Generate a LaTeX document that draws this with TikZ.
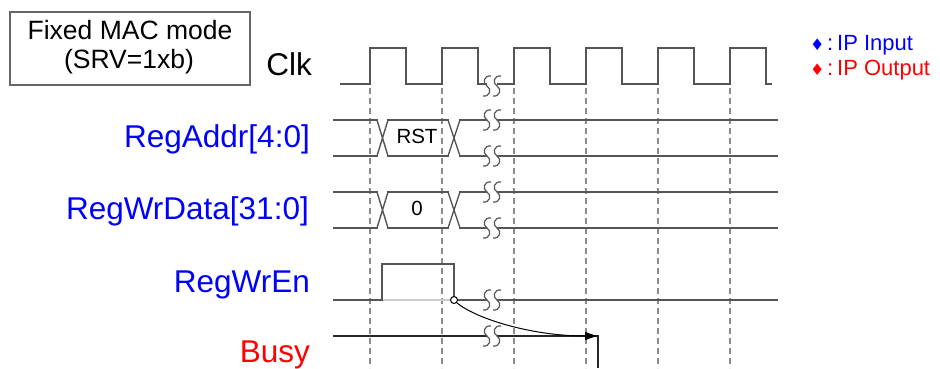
\documentclass[tikz,border=0pt]{standalone}
\usepackage{fontspec}
\setmainfont{Liberation Sans}
\newfontfamily\symfont{DejaVu Sans}
\usetikzlibrary{arrows.meta}
\definecolor{sig}{HTML}{555555}
\definecolor{grd}{HTML}{8C8C8C}
\definecolor{lgr}{HTML}{CCCCCC}
\definecolor{boxg}{HTML}{666666}
\definecolor{ipblue}{HTML}{0000FF}
\definecolor{ipred}{HTML}{FF0000}
\newcommand{\legdiamond}{{\symfont\fontsize{16}{18}\selectfont ♦}\kern2.5pt:\kern4pt}
\tikzset{
  sigline/.style={draw=sig, line width=1.4pt},
  busyline/.style={draw=black!85, line width=1.4pt},
  guide/.style={draw=grd, line width=1.2pt, dash pattern=on 6pt off 4pt},
  lbl/.style={font=\fontsize{31.5}{36}\selectfont, anchor=base east, inner sep=0pt},
  val/.style={font=\fontsize{20.5}{24}\selectfont, anchor=base, inner sep=0pt},
  boxtxt/.style={font=\fontsize{26.5}{30}\selectfont, anchor=base, inner sep=0pt},
  legendtxt/.style={font=\fontsize{22}{26}\selectfont, anchor=base west, inner sep=0pt},
  brk/.pic={
    \draw[sig, line width=1.2pt] (-2,-10) .. controls (-9,-11) and (-11,-3) .. (-6,0)
          .. controls (-1,3) and (-3,11) .. (-10,10);
    \draw[sig, line width=1.2pt] (8,-10) .. controls (1,-11) and (-1,-3) .. (4,0)
          .. controls (9,3) and (7,11) .. (0,10);
  }
}
\begin{document}
\begin{tikzpicture}[x=1pt,y=-1pt]
\useasboundingbox (0,0) rectangle (940,368);
% mode box
\node[draw=boxg, line width=1.2pt, minimum width=240pt, minimum height=73pt, inner sep=0pt] (modebox) at (130,48.5) {};
\node[boxtxt] (mode1) at (130,39) {Fixed MAC mode};
\node[boxtxt] (mode2) at (129,68) {(SRV=1xb)};
% legend
\node[legendtxt, text=ipblue] (legin) at (810,50) {\legdiamond IP Input};
\node[legendtxt, text=ipred] (legout) at (810,75) {\legdiamond IP Output};
% signal labels
\node[lbl] (clk) at (312,75) {Clk};
\node[lbl, text=ipblue] (addr) at (310,147) {RegAddr[4:0]};
\node[lbl, text=ipblue] (wrdata) at (309,219) {RegWrData[31:0]};
\node[lbl, text=ipblue] (wren) at (310,292) {RegWrEn};
\node[lbl, text=ipred] (busy) at (310,362) {Busy};
% guides
\foreach \gx in {370,442,514,586,658,730}
  \draw[guide] (\gx,48) -- (\gx,368);
% clock
\draw[sigline] (340,84) -- (370,84) -- (370,48) -- (406,48) -- (406,84) -- (442,84) -- (442,48)
  -- (478,48) -- (478,84) -- (487,84);
\draw[sigline] (497,84) -- (514,84) -- (514,48) -- (550,48) -- (550,84) -- (586,84) -- (586,48)
  -- (622,48) -- (622,84) -- (658,84) -- (658,48) -- (694,48) -- (694,84) -- (730,84) -- (730,48)
  -- (766,48) -- (766,84) -- (772,84);
\pic at (493,86) {brk};
% buses
\foreach \by in {120,156,192,228}{
  \draw[sigline] (333,\by) -- (487,\by);
  \draw[sigline] (497,\by) -- (778,\by);
  \pic at (493,\by) {brk};
}
\draw[draw=white, line width=2pt] (378,120) -- (387,120) (378,156) -- (387,156) (449,120) -- (459,120) (449,156) -- (459,156)
  (378,192) -- (387,192) (378,228) -- (387,228) (449,192) -- (459,192) (449,228) -- (459,228);
\draw[sigline] (377,120) -- (388,156) (377,156) -- (388,120) (448,120) -- (460,156) (448,156) -- (460,120);
\draw[sigline] (377,192) -- (388,228) (377,228) -- (388,192) (448,192) -- (460,228) (448,228) -- (460,192);
\node[val] (rst) at (417,143) {RST};
\node[val] (zero) at (417,215) {0};
% RegWrEn
\draw[draw=lgr, line width=1.4pt] (382,300) -- (454,300);
\draw[sigline] (333,300) -- (382,300) -- (382,264) -- (454,264) -- (454,300) -- (487,300);
\draw[sigline] (497,300) -- (778,300);
\pic at (493,300) {brk};
% Busy
\coordinate (busyfall) at (598,336);
\draw[busyline] (333,336) -- (487,336);
\draw[busyline] (497,336) -- (busyfall) -- (598,368);
\pic at (493,336) {brk};
\node[circle, draw=black, line width=1pt, minimum size=7pt, inner sep=0pt, fill=white] (edge) at (454,300) {};
\draw[black, line width=1pt, -{Latex[length=13pt,width=9pt]}] (edge.south east) .. controls (475,318) and (530,336) .. (busyfall);
\end{tikzpicture}
\end{document}
